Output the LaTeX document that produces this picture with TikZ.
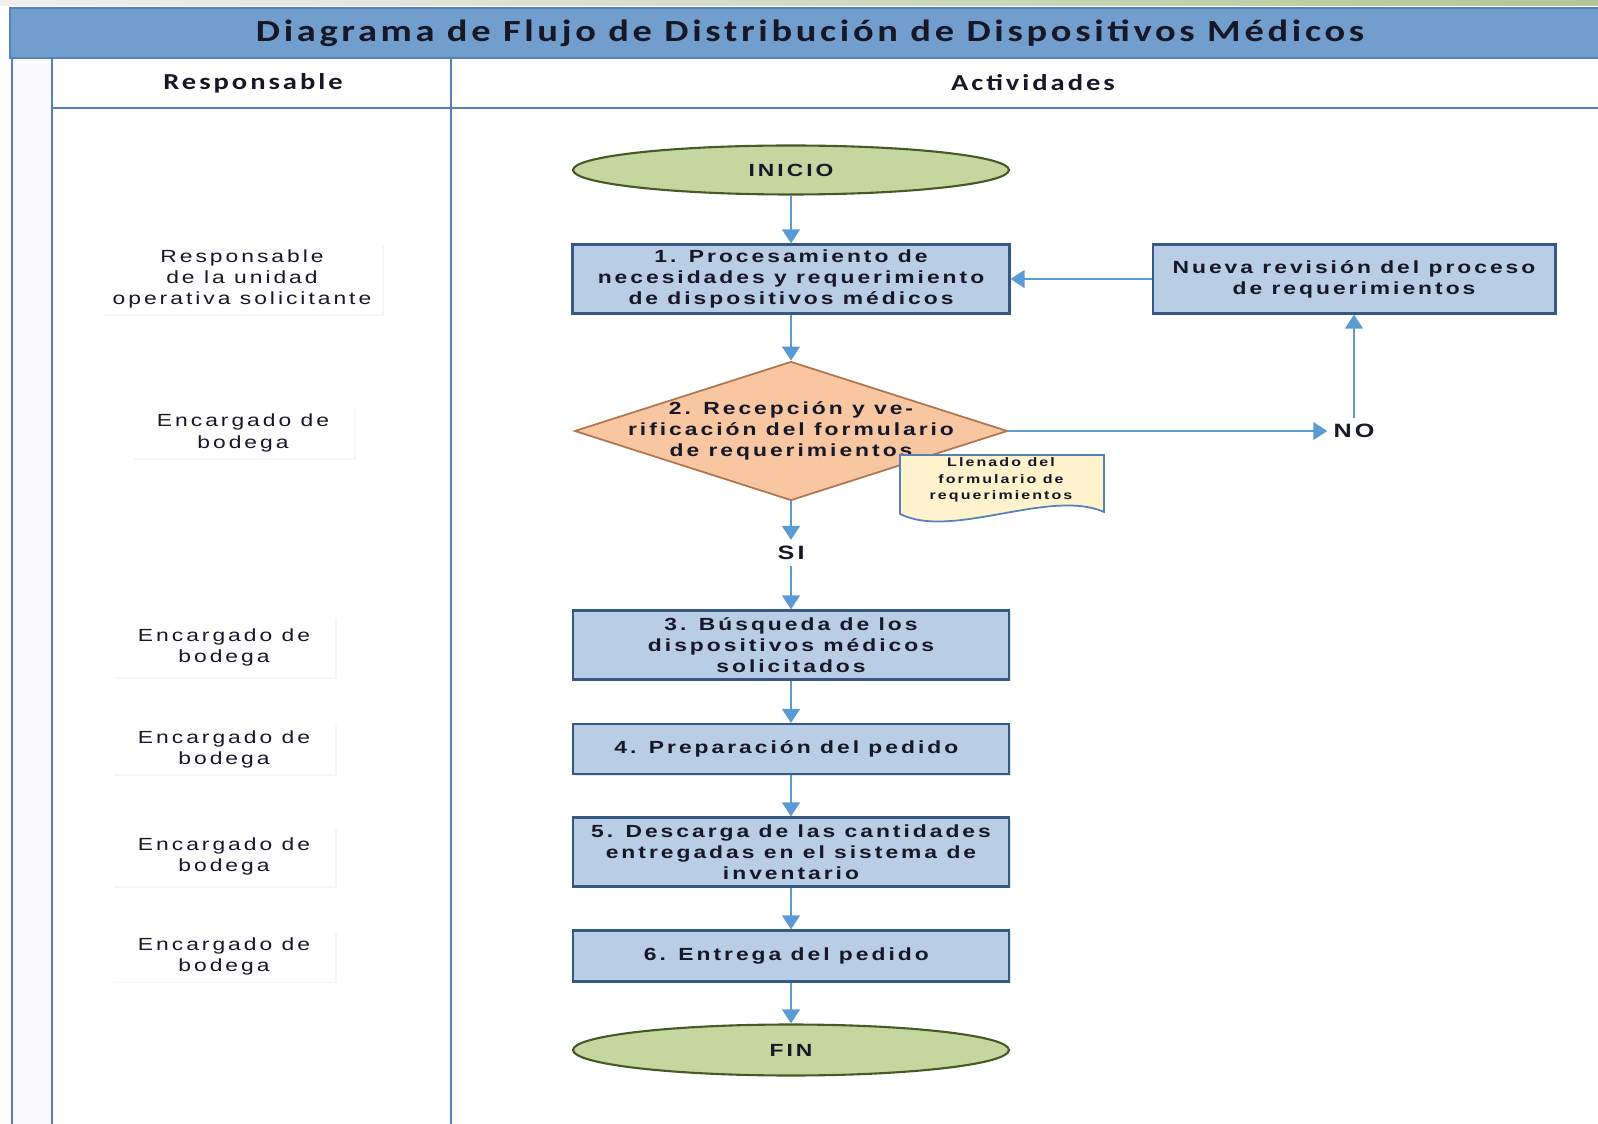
\documentclass[tikz,border=0pt]{standalone}
\usepackage{fontspec}
\setmainfont{Liberation Sans}
\newfontfamily\flowfont[FakeStretch=1.3,LetterSpace=17]{Liberation Sans}
\newfontfamily\headfont[FakeStretch=1.25,LetterSpace=13]{Carlito}
\newfontfamily\titlefont[FakeStretch=1.25,LetterSpace=12]{Carlito}
\usepackage{tikz}
\usetikzlibrary{positioning}
\usetikzlibrary{shapes.geometric,arrows.meta,shadows}

\definecolor{framebl}{RGB}{84,130,184}
\definecolor{titlebl}{RGB}{114,158,206}
\definecolor{boxfill}{RGB}{185,205,229}
\definecolor{boxline}{RGB}{56,88,132}
\definecolor{endfill}{RGB}{196,215,158}
\definecolor{endline}{RGB}{70,90,40}
\definecolor{decfill}{RGB}{248,198,160}
\definecolor{decline}{RGB}{176,118,78}
\definecolor{docfill}{RGB}{255,242,204}
\definecolor{arrowbl}{RGB}{91,155,213}
\definecolor{txtdark}{RGB}{22,24,40}

\tikzset{
  frameline/.style={draw=framebl,line width=1.6pt},
  headtext/.style={font=\headfont\bfseries\fontsize{13}{15}\selectfont,text=txtdark},
  stepbox/.style={draw=boxline,fill=boxfill,line width=1.2pt,align=center,
    minimum height=1.38cm,inner sep=2pt,text=txtdark,
    font=\flowfont\bfseries\fontsize{10}{12}\selectfont,
    drop shadow={shadow xshift=1pt,shadow yshift=-1pt,fill=black!25,opacity=.4}},
  termnode/.style={ellipse,draw=endline,fill=endfill,line width=1.2pt,
    minimum width=8.72cm,text=txtdark,font=\flowfont\bfseries\fontsize{10}{12}\selectfont},
  decnode/.style={diamond,draw=decline,fill=decfill,line width=1pt,inner sep=0pt,
    minimum width=8.66cm,minimum height=2.78cm},
  roletext/.style={fill=white,align=center,text=txtdark,
    font=\flowfont\fontsize{10}{12}\selectfont,
    drop shadow={shadow xshift=1pt,shadow yshift=-1pt,fill=framebl!20,opacity=.35}},
  flow/.style={-{Triangle[width=10pt,length=8pt]},draw=arrowbl,line width=1.5pt}
}

\begin{document}
\begin{tikzpicture}[x=0.02cm,y=-0.02cm]
  \useasboundingbox (0,0) rectangle (1598,1124);

  % frame
  \shade[left color=black!6,right color={rgb,255:red,178;green,198;blue,150}] (0,0) rectangle (1598,6);
  \fill[blue!2] (12,58) rectangle (52,1124);
  \draw[frameline,fill=titlebl] (10,8) rectangle (1604,58);
  \draw[frameline] (12,58) -- (12,1124);
  \draw[frameline] (52,58) -- (52,1124);
  \draw[frameline] (451,58) -- (451,1124);
  \draw[frameline] (52,108) -- (1604,108);

  \node at (810,33) [text=txtdark,font=\titlefont\bfseries\fontsize{17.5}{20}\selectfont] (title) {Diagrama de Flujo de Distribución de Dispositivos Médicos};
  \node at (253,83) [headtext] (hresp) {Responsable};
  \node at (1033,83) [headtext] (hact) {Actividades};

  % responsables
  \node at (242,279) [roletext,minimum width=5.62cm,minimum height=1.38cm] (resp1) {
    Responsable\\
    de la unidad\\
    operativa solicitante
  };
  \node at (243,433) [roletext,minimum width=4.44cm,minimum height=1.02cm] (resp2) {
    Encargado de\\
    bodega
  };
  \node at (224,647) [roletext,minimum width=4.46cm,minimum height=1.2cm] (resp3) {
    Encargado de\\
    bodega
  };
  \node at (224,749) [roletext,minimum width=4.46cm,minimum height=1.02cm] (resp4) {
    Encargado de\\
    bodega
  };
  \node at (224,856) [roletext,minimum width=4.46cm,minimum height=1.2cm] (resp5) {
    Encargado de\\
    bodega
  };
  \node at (224,956) [roletext,minimum width=4.46cm,minimum height=1.02cm] (resp6) {
    Encargado de\\
    bodega
  };

  % actividades
  \node at (791,170) [termnode,minimum height=0.98cm] (inicio) {INICIO};

  \node at (791,279) [stepbox,minimum width=8.74cm] (proc) {
    1. Procesamiento de\\
    necesidades y requerimiento\\
    de dispositivos médicos
  };

  \node at (1354,279) [stepbox,minimum width=8.06cm] (revision) {
    Nueva revisión del proceso\\
    de requerimientos
  };

  \node at (791,431) [decnode] (recep) {};
  \node at (recep.center) [align=center,text=txtdark,font=\flowfont\bfseries\fontsize{10}{12}\selectfont] (receptxt) {
    2. Recepción y ve-\\
    rificación del formulario\\
    de requerimientos
  };

  \node at (1354,431) [text=txtdark,font=\flowfont\bfseries\fontsize{11}{13}\selectfont] (no) {NO};
  \node at (791,553) [text=txtdark,font=\flowfont\bfseries\fontsize{11}{13}\selectfont] (si) {SI};

  % formulario
  \draw[draw=framebl,fill=docfill,line width=1pt] (900,455) -- (1104,455) -- (1104,512)
    .. controls (1050,488) and (952,540) .. (900,514) -- cycle;
  \node at (1001,480) [align=center,text=txtdark,font=\flowfont\bfseries\fontsize{7}{9.5}\selectfont] (formtxt) {
    Llenado del\\
    formulario de\\
    requerimientos
  };

  \node at (791,645) [stepbox,minimum width=8.72cm] (busq) {
    3. Búsqueda de los\\
    dispositivos médicos\\
    solicitados
  };

  \node at (791,749) [stepbox,minimum width=8.72cm,minimum height=1.0cm] (prep) {
    4. Preparación del pedido
  };

  \node at (791,852) [stepbox,minimum width=8.72cm] (desc) {
    5. Descarga de las cantidades\\
    entregadas en el sistema de\\
    inventario
  };

  \node at (791,956) [stepbox,minimum width=8.72cm,minimum height=1.02cm] (entrega) {
    6. Entrega del pedido
  };

  \node at (791,1050) [termnode,minimum height=1.02cm] (fin) {FIN};

  \draw[flow] (inicio) -- (proc);
  \draw[flow] (proc) -- (recep);
  \draw[flow] (recep) -- (si);
  \draw[flow] (si) -- (busq);
  \draw[flow] (recep.east) -- (no.west);
  \draw[flow] (no) -- (revision);
  \draw[flow] (revision) -- (proc);
  \draw[flow] (busq) -- (prep);
  \draw[flow] (prep) -- (desc);
  \draw[flow] (desc) -- (entrega);
  \draw[flow] (entrega) -- (fin);
\end{tikzpicture}
\end{document}
